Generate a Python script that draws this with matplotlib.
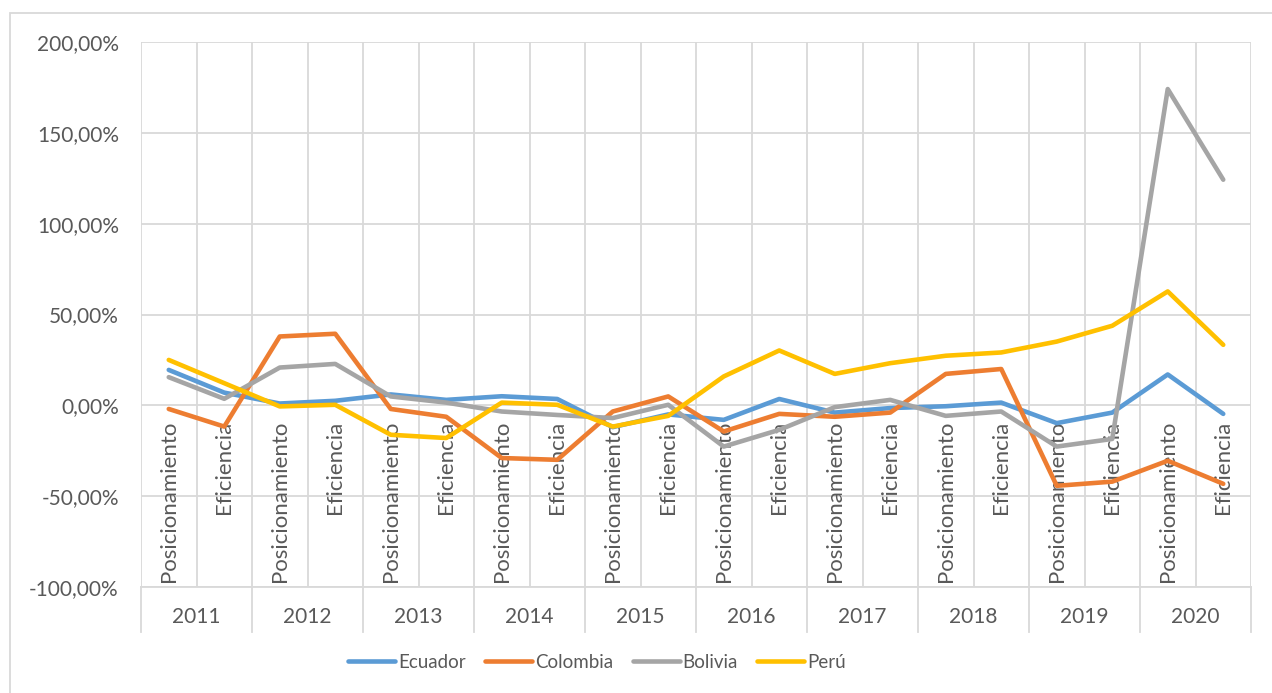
import matplotlib
matplotlib.use("Agg")
import matplotlib.pyplot as plt
from matplotlib.patches import Rectangle
from matplotlib.ticker import FuncFormatter, MultipleLocator
import matplotlib.transforms as mtransforms

years = ["2011", "2012", "2013", "2014", "2015", "2016", "2017", "2018", "2019", "2020"]
subcats = ["Posicionamiento", "Eficiencia"]

ecuador = [19.5, 7.0, 1.0, 2.5, 6.0, 3.0, 5.0, 3.5, -12.0, -5.0,
           -8.0, 3.5, -4.0, -1.5, -0.5, 1.5, -9.8, -4.0, 17.0, -4.7]
colombia = [-2.0, -11.7, 37.9, 39.4, -2.0, -6.3, -29.0, -30.0, -3.4, 4.9,
            -14.4, -4.7, -6.3, -4.0, 17.3, 20.0, -44.3, -42.0, -30.5, -43.2]
bolivia = [15.5, 3.6, 20.8, 22.8, 4.9, 1.5, -3.4, -5.3, -7.0, 0.3,
           -22.7, -13.5, -1.0, 3.0, -5.8, -3.4, -22.7, -18.5, 174.1, 124.2]
peru = [25.0, 12.2, -0.6, 0.3, -16.2, -18.0, 1.5, 0.3, -11.7, -5.8,
        15.9, 30.2, 17.3, 23.2, 27.3, 29.1, 35.1, 43.8, 62.7, 33.3]

series = [("Ecuador", ecuador, "#5B9BD5"),
          ("Colombia", colombia, "#ED7D31"),
          ("Bolivia", bolivia, "#A5A5A5"),
          ("Perú", peru, "#FFC000")]

plt.rcParams['font.family'] = ['Lato', 'DejaVu Sans']
TXT = "#595959"
GRID = "#D9D9D9"

W, H = 1272, 693
fig = plt.figure(figsize=(W / 100, H / 100), dpi=100)
fig.patch.set_facecolor("white")

# outer chart border (only left/top visible)
fig.add_artist(Rectangle((10 / W, -0.1), 1.2, 1 - 13 / H + 0.1, transform=fig.transFigure,
                         fill=False, edgecolor=GRID, linewidth=1.3))

left, right, top, bottom = 141, 1251, 42, 587
ax = fig.add_axes([left / W, 1 - bottom / H, (right - left) / W, (bottom - top) / H])

n = len(years) * len(subcats)
xs = list(range(n))
for name, vals, col in series:
    ax.plot(xs, vals, color=col, lw=3.3, solid_capstyle="round", solid_joinstyle="round",
            label=name, zorder=3)

ax.set_xlim(-0.5, n - 0.5)
ax.set_ylim(-100, 200)
ax.yaxis.set_major_locator(MultipleLocator(50))
ax.yaxis.set_major_formatter(FuncFormatter(lambda v, p: f"{v:.2f}%".replace(".", ",")))
ax.grid(axis="y", color=GRID, lw=1.3, zorder=0)
for b in range(n + 1):
    ax.axvline(b - 0.5, color=GRID, lw=1.3, zorder=0)
for s in ax.spines.values():
    s.set_visible(False)
ax.tick_params(axis="y", length=0, pad=16, labelsize=15, labelcolor=TXT)
ax.set_xticks([])

# category labels hanging below the zero line
for i in xs:
    ax.annotate(subcats[i % 2], xy=(i, 0), xytext=(0, -11), textcoords="offset points",
                rotation=90, ha="center", va="top", fontsize=16, color=TXT, zorder=2)

# year separators & labels below plot
trans = mtransforms.blended_transform_factory(ax.transData, ax.transAxes)
ext = (632 - bottom) / (bottom - top)
for k in range(len(years) + 1):
    ax.plot([2 * k - 0.5, 2 * k - 0.5], [0, -ext], transform=trans, color=GRID, lw=1.3,
            clip_on=False)
ax.plot([-0.5, n - 0.5], [0, 0], transform=trans, color=GRID, lw=1.3, clip_on=False)
ylab = -(617 - bottom) / (bottom - top)
for k, yr in enumerate(years):
    ax.text(2 * k + 0.5, ylab, yr, transform=trans, ha="center", va="center",
            fontsize=15, color=TXT)

leg = fig.legend(loc="center", bbox_to_anchor=(597 / W, 1 - 662 / H), ncol=4, frameon=False,
                 fontsize=13.5, labelcolor=TXT, handlelength=2.5, handletextpad=0.15,
                 columnspacing=1.05)
for h in leg.get_lines():
    h.set_linewidth(3.3)
    h.set_solid_capstyle("round")

fig.savefig("out.png", dpi=100)
